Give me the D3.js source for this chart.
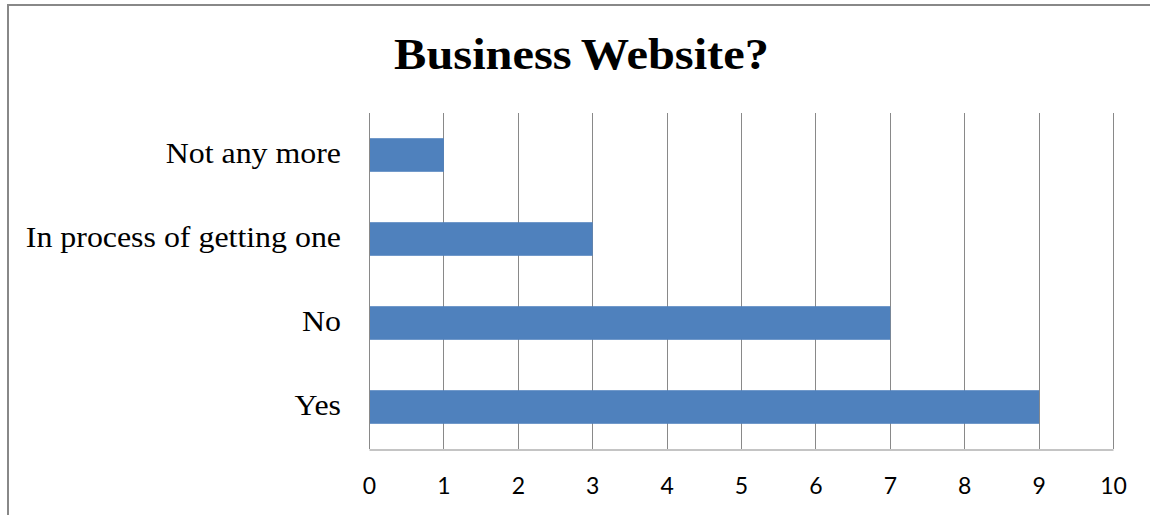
<!DOCTYPE html>
<html>
<head>
<meta charset="utf-8">
<script src="https://cdn.jsdelivr.net/npm/d3@7"></script>
<style>
  html, body { margin: 0; padding: 0; background: #fff; }
  svg { display: block; }
</style>
</head>
<body>
<svg id="chart" width="1150" height="515"></svg>
<script>
// Survey answers to "Business Website?"
const categories = ["Not any more", "In process of getting one", "No", "Yes"];
const counts = [1, 3, 7, 9];
const tickValues = [0, 1, 2, 3, 4, 5, 6, 7, 8, 9, 10];
const title = "Business Website?";

const SERIF = "Liberation Serif";
const SANS = "Lato";
const STRETCH = 1.1; // serif text is drawn slightly wide

const svg = d3.select("#chart");
const W = 1150, H = 515;
const plot = { left: 369, right: 1113, top: 113, bottom: 449 };
const gridColor = "#898989";

// Outer chart frame (extends past right and bottom edges)
svg.append("rect")
  .attr("x", 8).attr("y", 5)
  .attr("width", W + 20).attr("height", H + 20)
  .attr("fill", "#fff")
  .attr("stroke", "#888").attr("stroke-width", 2);

const x = d3.scaleLinear().domain([0, 10]).range([plot.left, plot.right]);
const y = d3.scaleBand().domain(categories)
  .range([plot.top, plot.bottom])
  .paddingInner(0.6).paddingOuter(0.3);

// Vertical gridlines
svg.append("g")
  .selectAll("line")
  .data(tickValues)
  .join("line")
  .attr("x1", d => Math.round(x(d)) + 0.5)
  .attr("x2", d => Math.round(x(d)) + 0.5)
  .attr("y1", plot.top).attr("y2", plot.bottom)
  .attr("stroke", gridColor).attr("stroke-width", 1);

// Bars
svg.append("g")
  .selectAll("rect")
  .data(categories)
  .join("rect")
  .attr("x", x(0) + 1)
  .attr("y", d => y(d))
  .attr("width", (d, i) => x(counts[i]) - x(0) - 0.5)
  .attr("height", y.bandwidth())
  .attr("fill", "#4F81BD");

// Bottom axis
const xAxis = d3.axisBottom(x).tickValues(tickValues).tickSize(0).tickPadding(0).tickFormat(d3.format("d"));
const gx = svg.append("g")
  .attr("transform", `translate(0,${plot.bottom + 0.5})`)
  .call(xAxis)
  .attr("font-family", SANS)
  .attr("font-size", 23);
gx.select(".domain").attr("stroke", gridColor).attr("stroke-width", 1);
gx.selectAll("text")
  .attr("dy", null)
  .attr("y", 44)
  .attr("fill", "#000");

// Left category labels
const labelPad = 28;
const yAxis = d3.axisLeft(y).tickSize(0).tickPadding(labelPad);
const gy = svg.append("g")
  .attr("transform", `translate(${plot.left},0)`)
  .call(yAxis)
  .attr("font-family", SERIF)
  .attr("font-size", 29);
gy.select(".domain").remove();
gy.selectAll("text")
  .attr("fill", "#000")
  .attr("x", -labelPad / STRETCH)
  .attr("dy", "0.29em")
  .attr("transform", `scale(${STRETCH},1)`);

// Title
svg.append("text")
  .attr("transform", `translate(581.5,69) scale(${STRETCH},1)`)
  .attr("text-anchor", "middle")
  .attr("font-family", SERIF)
  .attr("font-weight", "bold")
  .attr("font-size", 44)
  .attr("word-spacing", -2)
  .attr("fill", "#000")
  .text(title);
</script>
</body>
</html>
